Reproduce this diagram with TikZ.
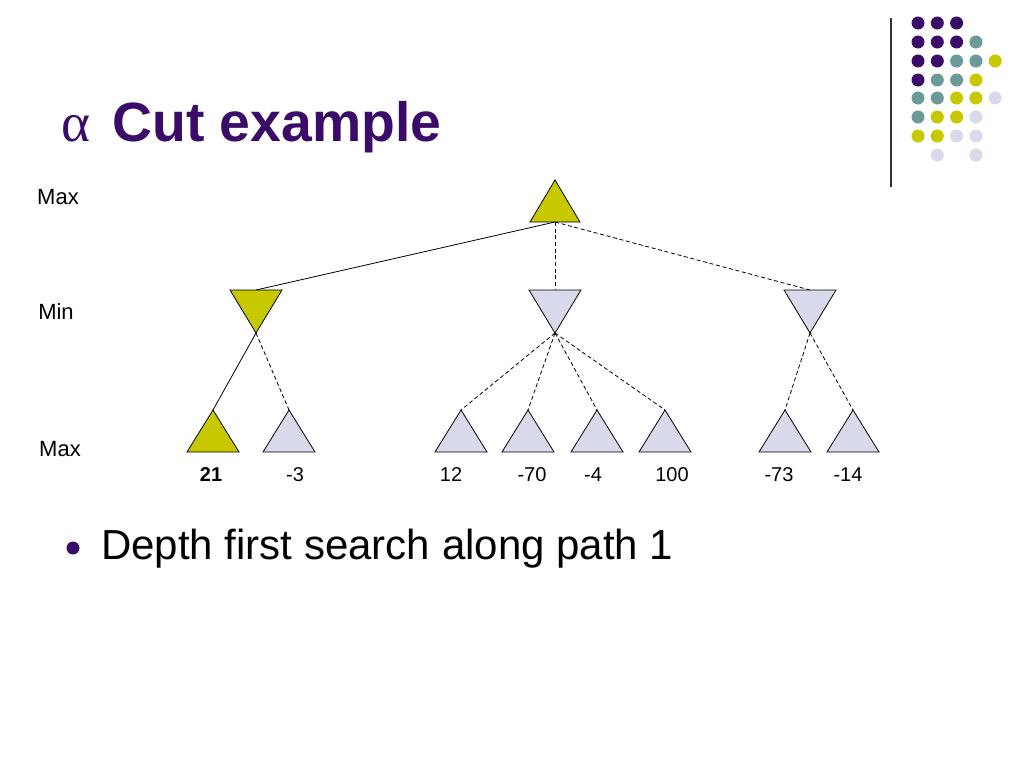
\documentclass[tikz,border=0pt]{standalone}
\usepackage{fontspec}
\setmainfont{Liberation Sans}
\newfontfamily\serifalpha{Liberation Serif}
\definecolor{pur}{HTML}{3A0B68}
\definecolor{teal}{HTML}{6B9B98}
\definecolor{yel}{HTML}{C8C800}
\definecolor{lav}{HTML}{D9D9EC}
\begin{document}
\begin{tikzpicture}[x=0.75pt,y=-0.75pt,
  tri/.style={draw=black,line width=0.6pt},
  sol/.style={draw=black,line width=0.6pt},
  dsh/.style={draw=black,line width=0.6pt,dash pattern=on 3pt off 2pt},
  lbl/.style={font=\fontsize{15}{18}\selectfont,anchor=center,inner sep=0},
  lvl/.style={font=\fontsize{16.5}{19}\selectfont,anchor=center,inner sep=0}]
\useasboundingbox (0,0) rectangle (1024,768);
\fill[white] (0,0) rectangle (1024,768);
% dot grid
\foreach \r/\cols in {23/{pur,pur,pur,,},42/{pur,pur,pur,teal,},61/{pur,pur,teal,teal,yel},80/{pur,teal,teal,yel,},98/{teal,teal,yel,yel,lav},117/{teal,yel,yel,lav,},136/{yel,yel,lav,lav,},155/{,lav,,lav,}}{
  \foreach \c [count=\i] in \cols {
    \ifx\c\empty\else \fill[\c] ({918+(\i-1)*19.3},\r) circle (6.5);\fi
  }
}
\draw[line width=1pt,black!80] (891,18) -- (891,187);
% title
\node[anchor=west,text=pur,inner sep=0,font=\fontsize{41.5}{48}\bfseries\selectfont] (title) at (61,127) {{\serifalpha\mdseries α}\hspace{0.4em}Cut example};
% levels
\node[lvl] (l1) at (58,197) {Max};
\node[lvl] (l2) at (56,312) {Min};
\node[lvl] (l3) at (60,449) {Max};
% root
\coordinate (r) at (555,222);
\filldraw[tri,fill=yel] (530,222) -- (580,222) -- (555,180) -- cycle;
% min nodes
\foreach \n/\x/\c in {m1/256/yel,m2/555/lav,m3/810/lav}{
  \filldraw[tri,fill=\c] (\x-26,290) -- (\x+26,290) -- (\x,333) -- cycle;
  \coordinate (\n t) at (\x,290); \coordinate (\n b) at (\x,333);
}
% leaves
\foreach \n/\x/\c/\v/\lx in {a/213/yel/{\textbf{21}}/211,b/289/lav/-3/295,c/461/lav/12/451,d/528/lav/-70/532,e/597/lav/-4/593,f/665/lav/100/672,g/785/lav/-73/779,h/853/lav/-14/848}{
  \filldraw[tri,fill=\c] (\x-26,452) -- (\x+26,452) -- (\x,410) -- cycle;
  \coordinate (\n) at (\x,410);
  \node[lbl] (v\n) at (\lx,475) {\v};
}
\draw[sol] (r) -- (m1t);
\draw[dsh] (r) -- (m2t);
\draw[dsh] (r) -- (m3t);
\draw[sol] (m1b) -- (a);
\draw[dsh] (m1b) -- (b);
\foreach \n in {c,d,e,f} \draw[dsh] (m2b) -- (\n);
\foreach \n in {g,h} \draw[dsh] (m3b) -- (\n);
% bullet
\fill[pur] (73,548) circle (6.5);
\node[anchor=west,inner sep=0,font=\fontsize{31.5}{38}\selectfont] (bul) at (101,549) {Depth first search along path 1};
\end{tikzpicture}
\end{document}
